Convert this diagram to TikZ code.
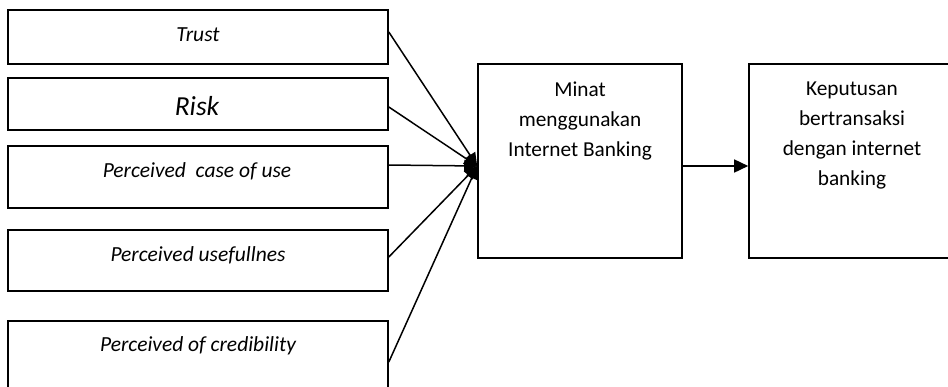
\documentclass[tikz,border=0pt]{standalone}
\usepackage{fontspec}
\setmainfont{Carlito}
\usetikzlibrary{arrows.meta}
\begin{document}
\begin{tikzpicture}[x=1pt,y=-1pt,
  box/.style={draw, line width=1.6pt, inner sep=0pt},
  conn/.style={line width=1.5pt, -{Triangle[length=13pt,width=12pt]}},
  lbl/.style={font=\fontsize{21.5}{24}\selectfont\itshape, anchor=base, inner sep=0pt},
  ctr/.style={font=\fontsize{21.3}{30}\selectfont, align=center, anchor=north, inner sep=0pt}]
\clip (0,0) rectangle (948,386);
% left boxes
\node[box, minimum width=380pt, minimum height=54pt] (b1) at (198,37) {};
\node[box, minimum width=380pt, minimum height=52pt] (b2) at (198,104) {};
\node[box, minimum width=380pt, minimum height=62pt] (b3) at (198,177) {};
\node[box, minimum width=380pt, minimum height=61pt] (b4) at (198,260.5) {};
\node[box, minimum width=380pt, minimum height=72pt] (b5) at (198,357) {};
% left texts
\node[lbl] (t1) at (198,41) {Trust};
\node[lbl, font=\fontsize{27.5}{30}\selectfont\itshape] (t2) at (197,115) {Risk};
\node[lbl] (t3) at (197,177) {Perceived\ \ case of use};
\node[lbl] (t4) at (198,261) {Perceived usefullnes};
\node[lbl] (t5) at (198,351) {Perceived of credibility};
% right boxes
\node[box, minimum width=204pt, minimum height=194pt] (m) at (580,161) {};
\node[box, minimum width=206pt, minimum height=194pt] (k) at (852,161) {};
\node[ctr] (mt) at ([yshift=-18pt]m.north) {Minat\\menggunakan\\Internet Banking};
\node[ctr] (kt) at ([yshift=-18pt]k.north) {Keputusan\\bertransaksi\\dengan internet\\banking};
% hub
\coordinate (hub) at ([yshift=-5pt]m.west);
\draw[conn] ([yshift=5pt]b1.east) -- (hub);
\draw[conn] ([yshift=-3pt]b2.east) -- (hub);
\draw[conn] ([yshift=12pt]b3.east) -- (hub);
\draw[conn] ([yshift=3.5pt]b4.east) -- (hub);
\draw[conn] ([yshift=-5pt]b5.east) -- (hub);
\draw[line width=1.6pt, -{Triangle[length=14pt,width=13pt]}] ([yshift=-5pt]m.east) -- ([yshift=-5pt]k.west);
\end{tikzpicture}
\end{document}
